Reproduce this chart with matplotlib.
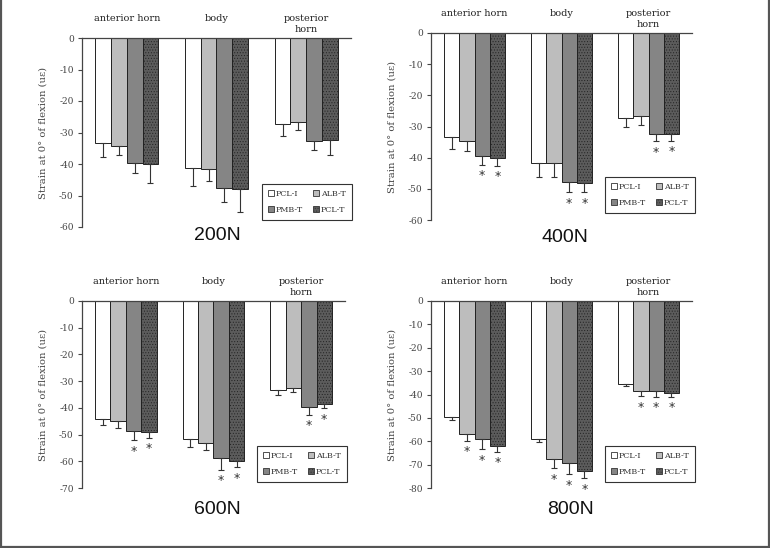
import matplotlib
matplotlib.use("Agg")
import matplotlib.pyplot as plt
from matplotlib.lines import Line2D
from matplotlib.patches import Patch
import numpy as np

W, H = 770, 548

regions = ['anterior horn', 'body', 'posterior\nhorn']
groups = ['PCL-I', 'ALB-T', 'PMB-T', 'PCL-T']
loads = ['200N', '400N', '600N', '800N']
y_floor = [-60, -60, -70, -80]

# rows = groups, columns = regions
mean_200 = [[-33.4, -41.4, -27.4], [-34.3, -41.7, -26.8], [-39.6, -47.7, -32.6], [-40.1, -47.8, -32.4]]
err_200 = [[4.5, 5.6, 3.6], [2.9, 3.7, 2.4], [3.4, 4.3, 3.0], [6.0, 7.3, 4.8]]
stars_200 = [[0, 0, 0], [0, 0, 0], [0, 0, 0], [0, 0, 0]]

mean_400 = [[-33.5, -41.7, -27.4], [-34.6, -41.7, -26.7], [-39.5, -47.8, -32.5], [-40.2, -48.0, -32.5]]
err_400 = [[3.8, 4.5, 2.9], [3.2, 4.4, 2.9], [2.7, 3.2, 2.2], [2.4, 3.0, 2.1]]
stars_400 = [[0, 0, 0], [0, 0, 0], [1, 1, 1], [1, 1, 1]]

mean_600 = [[-44.2, -51.7, -33.5], [-45.0, -53.0, -32.6], [-48.7, -58.8, -39.7], [-49.2, -59.9, -38.5]]
err_600 = [[2.4, 2.8, 1.6], [2.4, 2.6, 1.5], [3.5, 4.4, 2.9], [2.0, 2.4, 1.6]]
stars_600 = [[0, 0, 0], [0, 0, 0], [1, 1, 1], [1, 1, 1]]

mean_800 = [[-49.7, -59.1, -35.3], [-57.0, -67.8, -38.5], [-59.1, -69.2, -38.5], [-62.1, -72.8, -39.3]]
err_800 = [[1.3, 1.3, 0.9], [2.8, 3.6, 2.1], [4.3, 4.9, 2.5], [2.4, 3.1, 1.7]]
stars_800 = [[0, 0, 0], [1, 1, 1], [1, 1, 1], [1, 1, 1]]

means = [mean_200, mean_400, mean_600, mean_800]
errs = [err_200, err_400, err_600, err_800]
stars = [stars_200, stars_400, stars_600, stars_800]

bar_colors = ['#ffffff', '#bdbdbd', '#858585', '#5c5c5c']
bar_hatch = [None, None, None, '......']

# pixel boxes: left, right, top (y=0), bottom (y=min)
boxes = [(82, 351, 38, 227), (431, 692, 33, 220), (82, 345, 301, 488), (431, 692, 301, 488)]
title_xy = [(217, 236), (565, 238), (217, 509), (570, 509)]
legend_xy = [(307, 202), (650, 195), (302, 464), (650, 464)]

serif = 'DejaVu Serif'
plt.rcParams['hatch.linewidth'] = 0.4
plt.rcParams['hatch.color'] = '#2a2a2a'
plt.rcParams['axes.unicode_minus'] = False

fig = plt.figure(figsize=(W / 100, H / 100), dpi=100)
fig.patch.set_facecolor('white')

x = np.arange(len(regions))
bw = 0.175

for k in range(4):
    l, r, t, b = boxes[k]
    ax = fig.add_axes([l / W, 1 - b / H, (r - l) / W, (b - t) / H])
    for i, g in enumerate(groups):
        pos = x + (i - 1.5) * bw
        vals = np.array(means[k][i])
        e = np.array(errs[k][i])
        ax.bar(pos, vals, bw, color=bar_colors[i], edgecolor='#222222', linewidth=0.7,
               hatch=bar_hatch[i], zorder=2)
        ax.errorbar(pos, vals, yerr=[e, np.zeros_like(e)], fmt='none', ecolor='#333333',
                    elinewidth=0.8, capsize=2.2, capthick=0.8, zorder=3)
        for j in range(len(regions)):
            if stars[k][i][j]:
                ax.annotate('*', (pos[j], vals[j] - e[j]), xytext=(0, -8), textcoords='offset points',
                            ha='center', va='center', fontsize=9, color='#333333')
    ax.set_xlim(-0.5, 2.5)
    ax.set_ylim(y_floor[k], 0)
    ax.set_yticks(np.arange(y_floor[k], 1, 10))
    ax.set_xticks([])
    for s in ['right', 'bottom']:
        ax.spines[s].set_visible(False)
    ax.spines['left'].set_color('#444444')
    ax.spines['top'].set_color('#444444')
    ax.spines['left'].set_linewidth(0.9)
    ax.spines['top'].set_linewidth(0.9)
    ax.tick_params(axis='y', direction='out', length=3, width=0.8, color='#444444',
                   labelsize=6.5, labelcolor='#444444', pad=3)
    for lab in ax.get_yticklabels():
        lab.set_family(serif)
    ax.set_ylabel('Strain at 0° of flexion (uε)', family=serif, fontsize=7.2, color='#444444')
    ax.yaxis.set_label_coords(-34 / (r - l), 0.5)
    for j, name in enumerate(regions):
        ax.annotate(name, (x[j], 0), xytext=(0, 17), textcoords='offset points',
                    ha='center', va='top', fontsize=7, family=serif, color='#222222',
                    linespacing=1.3, annotation_clip=False)
    handles = [Patch(facecolor=bar_colors[i], edgecolor='#333333', linewidth=0.6, hatch=bar_hatch[i])
               for i in range(4)]
    order = [0, 2, 1, 3]
    lx, ly = legend_xy[k]
    leg = ax.legend([handles[i] for i in order], [groups[i] for i in order], ncol=2,
                    loc='center', bbox_to_anchor=(lx / W, 1 - ly / H), bbox_transform=fig.transFigure,
                    prop={'family': serif, 'size': 5.8}, handlelength=0.7, handleheight=0.7,
                    handletextpad=0.3, columnspacing=1.2, labelspacing=1.0, borderpad=0.8,
                    fancybox=False, framealpha=1, edgecolor='#333333')
    leg.get_frame().set_linewidth(0.8)
    for txt in leg.get_texts():
        txt.set_color('#333333')
    tx, ty = title_xy[k]
    fig.text(tx / W, 1 - ty / H, loads[k], ha='center', va='center', fontsize=14,
             family='Liberation Sans', color='#111111')

# outer frame (left, bottom, right edges)
frame_col = '#555555'
fig.add_artist(Line2D([1 / W, 1 / W], [1, 1 - 547 / H], color=frame_col, linewidth=1.6))
fig.add_artist(Line2D([768.5 / W, 768.5 / W], [1, 1 - 547 / H], color=frame_col, linewidth=1.6))
fig.add_artist(Line2D([1 / W, 768.5 / W], [1 - 546.5 / H, 1 - 546.5 / H], color=frame_col, linewidth=1.6))

fig.savefig('out.png', dpi=100)
